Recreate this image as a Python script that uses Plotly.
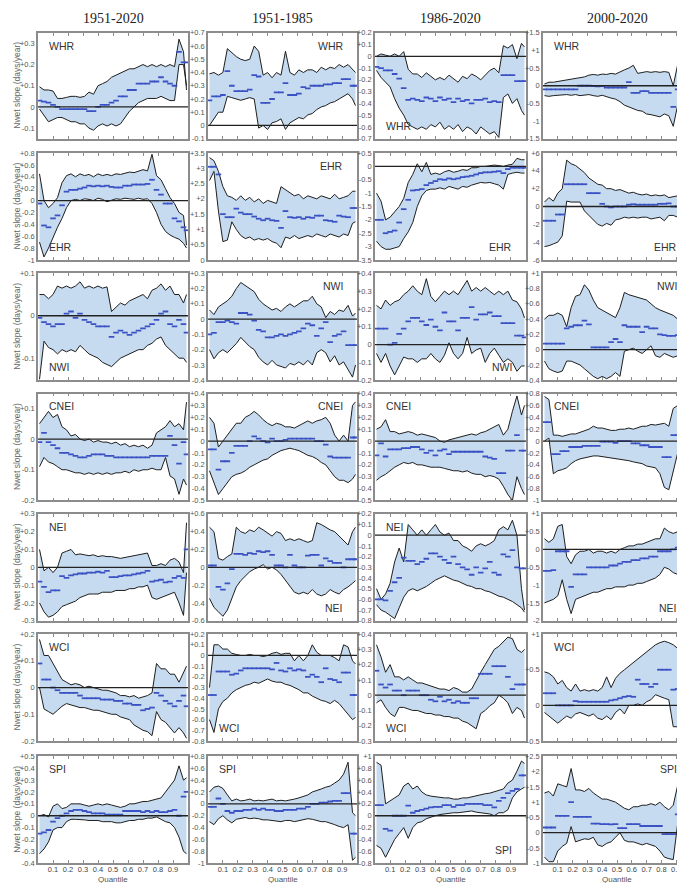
import plotly.graph_objects as go

# ---------------- data ----------------
quantiles = [0.01, 0.04, 0.07, 0.10, 0.13, 0.16, 0.19, 0.22, 0.25, 0.28, 0.31, 0.34,
             0.37, 0.40, 0.43, 0.46, 0.49, 0.52, 0.55, 0.58, 0.61, 0.64, 0.67, 0.70,
             0.73, 0.76, 0.79, 0.82, 0.85, 0.88, 0.91, 0.94, 0.97, 0.99]
periods = ["1951-2020", "1951-1985", "1986-2020", "2000-2020"]
regions = ["WHR", "EHR", "NWI", "CNEI", "NEI", "WCI", "SPI"]
x_ticks = [0.1, 0.2, 0.3, 0.4, 0.5, 0.6, 0.7, 0.8, 0.9]

# ---- WHR ----
WHR_5120_up = [0.095,0.08,0.08,0.075,0.04,0.04,0.045,0.05,0.05,0.045,0.05,0.07,0.06,0.10,0.11,0.12,0.14,0.15,0.16,0.17,0.18,0.18,0.19,0.20,0.19,0.20,0.19,0.20,0.19,0.20,0.19,0.32,0.26,0.08]
WHR_5120_lo = [-0.01,-0.04,-0.07,-0.06,-0.05,-0.05,-0.06,-0.07,-0.07,-0.08,-0.08,-0.10,-0.11,-0.09,-0.08,-0.09,-0.08,-0.09,-0.08,-0.05,-0.02,0.0,0.02,0.03,0.04,0.04,0.04,0.05,0.04,0.03,0.03,0.20,0.20,0.10]
WHR_5120_est = [0.03,0.025,0.02,0.01,0.0,-0.01,-0.01,-0.01,-0.01,-0.01,-0.01,-0.02,-0.02,0.0,0.01,0.01,0.02,0.03,0.05,0.05,0.08,0.08,0.11,0.11,0.11,0.12,0.12,0.14,0.12,0.11,0.10,0.26,0.21,0.21]
WHR_5185_up = [0.39,0.40,0.38,0.40,0.58,0.55,0.52,0.50,0.49,0.50,0.60,0.56,0.38,0.40,0.36,0.40,0.38,0.56,0.40,0.38,0.42,0.40,0.42,0.42,0.40,0.44,0.42,0.44,0.43,0.46,0.44,0.46,0.42,0.40]
WHR_5185_lo = [0.0,0.05,0.10,0.10,0.22,0.21,0.20,0.19,0.20,0.21,0.20,-0.02,0.0,-0.03,0.02,0.03,0.05,-0.03,0.02,0.04,0.06,0.05,0.08,0.09,0.12,0.14,0.15,0.17,0.18,0.20,0.22,0.24,0.20,0.15]
WHR_5185_est = [0.19,0.22,0.22,0.23,0.41,0.30,0.26,0.26,0.26,0.27,0.38,0.37,0.17,0.17,0.20,0.25,0.25,0.32,0.23,0.23,0.24,0.29,0.28,0.30,0.30,0.30,0.31,0.31,0.32,0.32,0.35,0.35,0.30,0.30]
WHR_8620_up = [0.0,0.02,0.01,0.0,0.02,0.0,0.04,-0.11,-0.15,-0.15,-0.18,-0.14,-0.17,-0.20,-0.18,-0.20,-0.16,-0.19,-0.22,-0.17,-0.19,-0.15,-0.17,-0.20,-0.16,-0.12,-0.10,-0.14,0.09,0.07,0.10,-0.02,0.11,0.08]
WHR_8620_lo = [-0.12,-0.18,-0.22,-0.26,-0.36,-0.44,-0.50,-0.58,-0.60,-0.62,-0.60,-0.62,-0.58,-0.60,-0.56,-0.62,-0.59,-0.62,-0.58,-0.64,-0.60,-0.62,-0.66,-0.60,-0.63,-0.66,-0.64,-0.69,-0.35,-0.32,-0.40,-0.36,-0.46,-0.50]
WHR_8620_est = [-0.09,-0.10,-0.12,-0.12,-0.15,-0.19,-0.27,-0.37,-0.36,-0.37,-0.38,-0.35,-0.36,-0.38,-0.35,-0.37,-0.36,-0.39,-0.36,-0.38,-0.37,-0.40,-0.37,-0.37,-0.36,-0.39,-0.38,-0.39,-0.16,-0.16,-0.16,-0.21,-0.21,-0.21]
WHR_0020_up = [0.05,0.10,0.10,0.12,0.15,0.15,0.18,0.20,0.22,0.25,0.30,0.32,0.30,0.33,0.32,0.35,0.33,0.40,0.45,0.50,0.58,0.35,0.38,0.40,0.38,0.40,0.38,0.40,0.38,0.0,0.60,0.75,0.90,1.00]
WHR_0020_lo = [-0.28,-0.30,-0.28,-0.27,-0.28,-0.25,-0.27,-0.25,-0.28,-0.27,-0.25,-0.28,-0.30,-0.27,-0.32,-0.35,-0.38,-0.45,-0.55,-0.60,-0.65,-0.70,-0.72,-0.80,-0.82,-0.85,-0.88,-0.80,-0.85,-1.15,-0.55,-0.35,-0.50,-0.30]
WHR_0020_est = [-0.10,-0.10,-0.10,-0.10,-0.10,-0.10,-0.10,-0.10,0.0,0.0,0.0,-0.01,-0.02,-0.01,-0.05,-0.05,-0.05,-0.05,-0.05,0.10,-0.20,-0.20,-0.15,-0.15,-0.20,-0.20,-0.20,-0.20,-0.20,-0.60,-0.10,-0.10,0.20,0.20]

# ---- EHR ----
EHR_5120_up = [0.45,0.0,-0.12,-0.05,0.05,0.30,0.42,0.45,0.40,0.45,0.42,0.44,0.40,0.45,0.42,0.44,0.42,0.45,0.44,0.46,0.48,0.47,0.50,0.52,0.50,0.78,0.42,0.35,0.20,0.05,-0.05,-0.20,-0.25,-0.75]
EHR_5120_lo = [-0.70,-0.95,-0.80,-0.62,-0.45,-0.30,-0.12,0.0,0.02,0.0,0.03,0.02,0.0,0.04,0.02,-0.02,0.01,0.03,0.02,0.04,0.03,0.02,0.04,0.02,0.03,-0.05,-0.20,-0.40,-0.52,-0.58,-0.62,-0.65,-0.72,-0.80]
EHR_5120_est = [-0.05,-0.42,-0.45,-0.30,-0.25,-0.08,0.15,0.18,0.18,0.20,0.22,0.25,0.24,0.25,0.24,0.25,0.23,0.22,0.22,0.25,0.25,0.27,0.27,0.27,0.28,0.35,0.18,0.10,-0.05,-0.05,-0.30,-0.35,-0.45,-0.50]
EHR_5185_up = [3.35,3.25,2.90,2.40,2.10,2.05,1.95,2.10,1.95,2.05,1.90,2.00,1.85,1.95,1.90,1.85,2.40,2.30,2.20,2.10,2.15,2.00,2.10,2.05,2.00,2.10,2.05,2.00,2.15,2.00,2.05,2.10,2.25,2.25]
EHR_5185_lo = [2.60,2.90,1.60,0.60,0.65,1.25,1.00,0.80,0.70,0.75,0.65,0.70,0.65,0.70,0.60,0.55,0.40,0.75,0.70,0.80,0.70,0.75,0.80,0.75,0.85,0.80,0.75,0.85,0.80,0.75,0.85,0.80,1.20,1.25]
EHR_5185_est = [3.05,3.05,2.80,1.50,1.40,1.40,1.68,1.55,1.50,1.50,1.42,1.35,1.30,1.35,1.30,1.28,1.05,1.60,1.40,1.38,1.40,1.35,1.40,1.38,1.45,1.45,1.30,1.28,1.25,1.45,1.42,1.40,1.70,1.70]
EHR_8620_up = [-1.00,-1.30,-2.00,-1.90,-1.70,-1.50,-1.20,-0.60,-0.30,0.10,-0.20,0.15,-0.30,-0.25,-0.30,-0.20,-0.15,-0.22,-0.18,-0.12,-0.15,-0.05,-0.05,0.0,0.0,0.02,0.05,0.03,0.0,0.05,0.08,0.30,0.25,0.25]
EHR_8620_lo = [-2.80,-3.00,-3.10,-3.10,-3.05,-3.00,-2.70,-2.45,-2.10,-1.50,-1.10,-0.90,-0.85,-0.85,-0.80,-0.85,-0.75,-0.80,-0.85,-0.75,-0.78,-0.70,-0.65,-0.60,-0.62,-0.60,-0.65,-0.70,-0.85,-0.30,-0.25,-0.22,-0.25,-0.25]
EHR_8620_est = [-2.00,-2.00,-2.50,-2.45,-2.40,-2.10,-1.60,-1.25,-0.90,-0.88,-0.85,-0.70,-0.62,-0.55,-0.48,-0.50,-0.45,-0.48,-0.45,-0.40,-0.38,-0.35,-0.30,-0.25,-0.22,-0.22,-0.20,-0.18,-0.25,-0.10,-0.05,-0.05,-0.05,-0.05]
EHR_0020_up = [0.50,1.00,0.60,1.50,2.00,5.20,4.80,4.60,4.20,3.80,3.20,2.80,2.50,2.40,2.00,2.00,1.80,1.90,1.70,1.50,1.60,1.40,1.30,1.40,1.20,1.30,1.20,1.30,1.00,1.10,1.20,1.00,1.10,1.00]
EHR_0020_lo = [-4.50,-4.40,-4.20,-4.00,-3.30,0.60,0.50,0.50,0.50,-0.50,-1.00,-1.50,-2.00,-2.20,-1.90,-2.10,-1.50,-1.40,-1.20,-1.30,-1.20,-1.30,-1.20,-1.20,-1.40,-1.30,-1.20,-1.60,-1.00,-1.00,-1.20,-1.30,-1.40,-1.30]
EHR_0020_est = [-1.6,-1.6,-1.6,-0.9,-0.9,2.5,2.5,2.5,2.5,2.5,1.5,1.5,1.5,0.3,0.0,-0.1,0.0,0.0,0.0,0.2,0.25,0.2,0.2,0.2,0.2,0.2,0.3,0.3,0.35,0.0,0.0,0.0,0.0,0.0]

# ---- NWI ----
NWI_5120_up = [0.05,0.05,0.04,0.05,0.07,0.065,0.07,0.065,0.07,0.08,0.065,0.07,0.065,0.07,0.065,0.068,0.01,0.02,0.03,0.025,0.035,0.04,0.045,0.05,0.04,0.06,0.065,0.075,0.06,0.07,0.05,0.05,0.03,0.05]
NWI_5120_lo = [-0.15,-0.06,-0.075,-0.08,-0.09,-0.08,-0.085,-0.08,-0.085,-0.07,-0.08,-0.09,-0.095,-0.10,-0.11,-0.115,-0.12,-0.11,-0.10,-0.095,-0.09,-0.085,-0.08,-0.08,-0.07,-0.065,-0.055,-0.05,-0.07,-0.08,-0.09,-0.10,-0.10,-0.11]
NWI_5120_est = [-0.005,-0.015,-0.02,-0.025,-0.02,-0.02,0.005,0.01,-0.005,0.005,-0.01,-0.015,-0.02,-0.025,-0.025,-0.025,-0.05,-0.04,-0.035,-0.04,-0.045,-0.04,-0.035,-0.03,-0.025,-0.02,-0.01,0.005,0.01,-0.02,-0.025,-0.01,-0.02,-0.04]
NWI_5185_up = [0.06,0.03,0.08,0.10,0.12,0.15,0.20,0.24,0.22,0.20,0.18,0.13,0.10,0.08,0.06,0.07,0.05,0.08,0.10,0.08,0.10,0.12,0.12,0.15,0.10,0.08,0.01,0.05,0.03,0.06,0.05,0.09,0.02,0.04]
NWI_5185_lo = [-0.20,-0.26,-0.22,-0.20,-0.22,-0.19,-0.16,-0.12,-0.15,-0.18,-0.20,-0.25,-0.28,-0.30,-0.27,-0.30,-0.31,-0.32,-0.29,-0.30,-0.28,-0.30,-0.27,-0.30,-0.22,-0.20,-0.22,-0.28,-0.24,-0.30,-0.28,-0.33,-0.38,-0.30]
NWI_5185_est = [-0.10,-0.09,-0.02,-0.02,-0.01,-0.02,-0.03,0.04,0.04,0.03,-0.01,-0.07,-0.08,-0.12,-0.12,-0.11,-0.10,-0.11,-0.10,-0.09,-0.08,-0.06,-0.03,-0.04,-0.11,-0.06,-0.02,-0.15,-0.11,-0.10,-0.08,-0.17,-0.17,-0.17]
NWI_8620_up = [0.22,0.20,0.25,0.22,0.24,0.25,0.28,0.30,0.33,0.30,0.28,0.37,0.27,0.24,0.27,0.30,0.28,0.30,0.28,0.32,0.36,0.30,0.32,0.30,0.32,0.30,0.28,0.30,0.28,0.30,0.25,0.24,0.20,0.15]
NWI_8620_lo = [-0.05,-0.10,-0.05,-0.12,-0.17,-0.12,-0.07,-0.08,-0.08,-0.10,-0.08,-0.08,-0.05,-0.08,-0.10,-0.06,0.01,-0.05,-0.08,-0.05,0.04,-0.05,-0.03,-0.02,-0.10,-0.05,-0.02,-0.06,-0.10,-0.08,-0.10,-0.15,-0.12,-0.12]
NWI_8620_est = [0.09,0.09,0.09,0.0,0.01,0.06,0.09,0.13,0.15,0.15,0.13,0.11,0.14,0.10,0.08,0.18,0.13,0.13,0.08,0.15,0.15,0.21,0.14,0.17,0.17,0.18,0.16,0.16,0.12,0.12,0.12,0.05,0.05,0.04]
NWI_0020_up = [0.40,0.45,0.45,0.48,0.45,0.30,0.55,0.70,0.72,0.85,0.78,0.65,0.55,0.52,0.48,0.45,0.42,0.55,0.75,0.72,0.70,0.68,0.66,0.65,0.60,0.55,0.52,0.50,0.48,0.45,0.40,0.35,0.38,0.40]
NWI_0020_lo = [-0.15,-0.25,-0.28,-0.30,-0.28,-0.15,-0.15,-0.18,-0.20,-0.25,-0.30,-0.35,-0.38,-0.35,-0.38,-0.35,-0.30,-0.35,-0.02,0.0,0.02,-0.02,-0.05,0.0,0.05,-0.08,-0.10,-0.05,-0.08,-0.10,-0.08,-0.10,-0.06,-0.05]
NWI_0020_est = [0.08,0.08,0.08,0.08,0.08,0.28,0.30,0.32,0.32,0.38,0.33,0.03,0.03,0.03,0.03,0.10,0.14,0.10,0.32,0.30,0.30,0.30,0.23,0.30,0.28,0.28,0.20,0.19,0.18,0.18,0.19,0.19,0.18,0.19]

# ---- CNEI ----
CNEI_5120_up = [0.05,0.07,0.09,0.07,0.08,0.04,0.03,0.01,0.015,0.0,-0.005,0.0,-0.01,-0.005,-0.01,-0.01,-0.015,-0.01,-0.02,-0.015,-0.025,-0.02,-0.025,-0.02,-0.03,-0.02,0.02,0.03,0.04,0.06,0.04,0.05,0.03,0.12]
CNEI_5120_lo = [-0.09,-0.06,-0.075,-0.08,-0.09,-0.10,-0.10,-0.105,-0.11,-0.11,-0.115,-0.11,-0.115,-0.11,-0.115,-0.11,-0.115,-0.11,-0.11,-0.105,-0.11,-0.10,-0.105,-0.10,-0.10,-0.095,-0.10,-0.10,-0.06,-0.12,-0.13,-0.18,-0.13,-0.15]
CNEI_5120_est = [-0.01,0.02,-0.01,-0.02,-0.03,-0.045,-0.045,-0.05,-0.055,-0.06,-0.06,-0.055,-0.05,-0.05,-0.05,-0.055,-0.055,-0.06,-0.06,-0.06,-0.06,-0.06,-0.06,-0.06,-0.06,-0.055,-0.055,-0.055,-0.055,0.01,-0.02,-0.08,-0.01,-0.05]
CNEI_5185_up = [0.20,0.15,-0.05,0.0,0.05,0.10,0.15,0.15,0.20,0.22,0.25,0.22,0.18,0.15,0.13,0.15,0.14,0.12,0.12,0.11,0.13,0.15,0.17,0.15,0.17,0.18,0.20,0.15,0.05,0.0,0.05,0.0,0.30,0.33]
CNEI_5185_lo = [-0.25,-0.35,-0.45,-0.40,-0.35,-0.30,-0.28,-0.27,-0.25,-0.22,-0.20,-0.18,-0.16,-0.15,-0.12,-0.10,-0.08,-0.07,-0.06,-0.07,-0.08,-0.10,-0.12,-0.13,-0.15,-0.18,-0.20,-0.25,-0.30,-0.33,-0.33,-0.35,-0.32,-0.28]
CNEI_5185_est = [-0.07,-0.07,-0.24,-0.17,-0.17,-0.10,-0.04,-0.04,-0.04,0.0,0.04,0.02,0.0,-0.01,0.02,0.0,0.0,0.01,0.02,0.02,0.02,0.02,0.02,0.02,0.0,0.0,-0.03,-0.13,-0.14,-0.14,-0.14,-0.14,0.03,0.03]
CNEI_8620_up = [0.10,0.12,0.18,0.08,0.08,0.06,0.07,0.08,0.07,0.05,0.06,0.05,0.04,0.03,0.0,-0.01,0.01,0.02,0.03,0.04,0.05,0.06,0.05,0.07,0.08,0.10,0.12,0.14,0.05,0.10,0.25,0.38,0.22,0.30]
CNEI_8620_lo = [-0.33,-0.30,-0.28,-0.25,-0.22,-0.20,-0.18,-0.19,-0.18,-0.20,-0.20,-0.21,-0.22,-0.22,-0.22,-0.23,-0.24,-0.25,-0.25,-0.26,-0.25,-0.27,-0.28,-0.28,-0.30,-0.29,-0.30,-0.32,-0.38,-0.45,-0.50,-0.30,-0.40,-0.45]
CNEI_8620_est = [-0.12,-0.02,-0.13,-0.07,-0.07,-0.07,-0.06,-0.06,-0.05,-0.05,-0.07,-0.10,-0.08,-0.12,-0.08,-0.07,-0.11,-0.09,-0.09,-0.09,-0.09,-0.09,-0.09,-0.09,-0.13,-0.14,-0.15,-0.27,-0.27,-0.08,-0.08,0.05,-0.08,-0.08]
CNEI_0020_up = [0.75,0.70,0.10,0.10,0.08,0.10,0.12,0.12,0.15,0.18,0.20,0.25,0.22,0.22,0.20,0.18,0.18,0.20,0.20,0.22,0.20,0.22,0.25,0.25,0.28,0.27,0.28,0.30,0.25,0.55,0.60,0.62,0.65,0.70]
CNEI_0020_lo = [0.0,0.05,-0.55,-0.50,-0.48,-0.45,-0.38,-0.33,-0.30,-0.28,-0.27,-0.25,-0.25,-0.26,-0.27,-0.28,-0.30,-0.30,-0.32,-0.33,-0.35,-0.37,-0.38,-0.42,-0.44,-0.45,-0.55,-0.78,-0.82,-0.50,-0.20,-0.10,-0.05,-0.30]
CNEI_0020_est = [0.32,0.32,-0.22,-0.22,-0.17,-0.17,-0.10,-0.10,-0.10,-0.08,-0.08,-0.08,-0.08,-0.01,-0.01,-0.01,-0.03,0.0,0.0,0.0,-0.04,-0.04,-0.07,-0.07,-0.10,-0.10,-0.10,-0.27,-0.27,0.10,0.10,0.10,0.10,0.10]

# ---- NEI ----
NEI_5120_up = [0.10,-0.02,0.0,-0.03,0.0,0.08,0.09,0.10,0.07,0.075,0.07,0.065,0.07,0.06,0.065,0.06,0.06,0.055,0.05,0.055,0.06,0.065,0.07,0.075,0.08,0.01,0.01,0.02,0.01,0.04,0.05,0.03,-0.03,0.25]
NEI_5120_lo = [-0.20,-0.25,-0.28,-0.27,-0.25,-0.22,-0.21,-0.20,-0.19,-0.17,-0.16,-0.15,-0.15,-0.15,-0.14,-0.14,-0.14,-0.13,-0.13,-0.13,-0.12,-0.12,-0.11,-0.11,-0.10,-0.17,-0.18,-0.17,-0.16,-0.15,-0.14,-0.20,-0.27,-0.03]
NEI_5120_est = [-0.08,-0.11,-0.14,-0.13,-0.13,-0.05,-0.06,-0.045,-0.04,-0.035,-0.035,-0.03,-0.03,-0.025,-0.03,-0.02,-0.055,-0.055,-0.05,-0.045,-0.045,-0.04,-0.035,-0.03,-0.02,-0.08,-0.075,-0.07,-0.085,-0.08,-0.06,-0.05,-0.06,0.10]
NEI_5185_up = [0.45,0.40,0.10,0.08,0.12,0.15,0.45,0.40,0.38,0.42,0.40,0.45,0.42,0.38,0.35,0.40,0.38,0.30,0.32,0.30,0.32,0.30,0.28,0.30,0.50,0.48,0.45,0.42,0.40,0.35,0.30,0.25,0.40,0.45]
NEI_5185_lo = [-0.35,-0.45,-0.50,-0.55,-0.48,-0.35,-0.22,-0.15,-0.10,-0.05,-0.02,0.0,0.03,-0.02,0.0,-0.03,-0.08,-0.15,-0.22,-0.28,-0.30,-0.28,-0.30,-0.25,-0.30,-0.32,-0.30,-0.25,-0.28,-0.30,-0.25,-0.22,-0.18,-0.15]
NEI_5185_est = [0.02,0.02,-0.22,-0.25,-0.18,-0.02,0.15,0.15,0.14,0.16,0.15,0.18,0.17,0.18,0.14,0.02,0.02,0.0,0.14,0.02,0.0,0.0,0.13,0.14,0.14,0.02,0.10,0.07,0.05,0.05,0.0,0.09,0.09,0.09]
NEI_8620_up = [-0.50,-0.60,-0.55,-0.45,-0.25,-0.12,-0.25,0.10,0.05,0.0,0.05,0.0,0.05,0.10,0.03,0.0,0.02,-0.05,-0.05,-0.10,-0.12,-0.15,-0.10,-0.08,-0.10,-0.08,-0.05,0.05,0.08,0.05,0.14,0.0,-0.50,-0.70]
NEI_8620_lo = [-0.65,-0.70,-0.72,-0.75,-0.78,-0.68,-0.58,-0.52,-0.50,-0.52,-0.50,-0.48,-0.45,-0.42,-0.40,-0.38,-0.40,-0.42,-0.43,-0.45,-0.47,-0.48,-0.50,-0.50,-0.52,-0.53,-0.55,-0.57,-0.58,-0.60,-0.62,-0.65,-0.68,-0.72]
NEI_8620_est = [-0.60,-0.60,-0.61,-0.52,-0.44,-0.40,-0.21,-0.24,-0.24,-0.27,-0.25,-0.22,-0.17,-0.17,-0.20,-0.23,-0.26,-0.20,-0.27,-0.30,-0.32,-0.37,-0.30,-0.35,-0.31,-0.25,-0.35,-0.37,-0.18,-0.20,-0.14,-0.30,-0.31,-0.31]
NEI_0020_up = [0.30,0.20,0.30,0.65,0.70,-0.20,-0.40,-0.15,-0.05,-0.05,0.0,-0.10,-0.05,-0.05,-0.10,-0.05,-0.10,0.0,0.05,0.10,0.10,0.15,0.15,0.20,0.25,0.30,0.30,0.60,0.50,0.45,0.50,0.30,0.35,0.25]
NEI_0020_lo = [-1.50,-1.45,-1.40,-1.30,-0.85,-1.40,-1.80,-1.40,-1.35,-1.30,-1.25,-1.20,-1.20,-1.15,-1.10,-1.10,-1.05,-1.05,-1.05,-1.00,-1.00,-0.95,-0.95,-0.90,-0.85,-0.80,-0.70,-0.50,-0.55,-0.65,-0.70,-0.80,-0.85,-0.85]
NEI_0020_est = [-0.60,-0.60,-0.58,-0.05,-0.05,-0.05,-1.05,-0.70,-0.70,-0.70,-0.50,-0.50,-0.50,-0.50,-0.50,-0.45,-0.45,-0.40,-0.35,-0.35,-0.30,-0.30,-0.25,-0.25,-0.20,-0.20,-0.05,-0.05,-0.05,0.0,0.05,-0.25,-0.25,-0.25]

# ---- WCI ----
WCI_5120_up = [0.18,0.12,0.12,0.09,0.06,0.03,0.02,0.01,0.015,0.01,0.0,0.005,0.0,-0.005,-0.01,-0.01,-0.015,-0.02,-0.03,-0.03,-0.035,-0.03,-0.04,-0.035,-0.03,-0.02,0.09,0.07,0.07,0.05,0.05,0.02,0.06,0.08]
WCI_5120_lo = [0.0,-0.08,-0.09,-0.10,-0.085,-0.07,-0.06,-0.065,-0.07,-0.075,-0.075,-0.08,-0.085,-0.085,-0.09,-0.095,-0.10,-0.10,-0.11,-0.115,-0.12,-0.14,-0.15,-0.16,-0.165,-0.18,-0.09,-0.12,-0.13,-0.15,-0.17,-0.15,-0.17,-0.19]
WCI_5120_est = [0.09,0.03,0.03,0.0,-0.01,-0.02,-0.02,-0.02,-0.02,-0.03,-0.04,-0.04,-0.04,-0.04,-0.045,-0.045,-0.045,-0.05,-0.05,-0.06,-0.06,-0.065,-0.065,-0.085,-0.08,-0.075,-0.02,-0.03,-0.05,-0.06,-0.07,-0.05,-0.03,-0.07]
WCI_5185_up = [-0.30,0.10,0.10,0.06,0.06,0.02,0.01,0.0,0.0,0.01,0.0,0.0,-0.01,0.0,0.02,0.03,0.01,0.02,0.02,-0.05,0.0,-0.05,0.0,0.10,0.03,0.0,0.0,0.0,-0.02,-0.05,0.10,0.08,-0.05,-0.08]
WCI_5185_lo = [-0.60,-0.72,-0.50,-0.43,-0.40,-0.35,-0.32,-0.30,-0.28,-0.27,-0.25,-0.26,-0.24,-0.22,-0.24,-0.25,-0.25,-0.27,-0.28,-0.30,-0.32,-0.35,-0.35,-0.38,-0.40,-0.42,-0.43,-0.45,-0.42,-0.45,-0.50,-0.55,-0.60,-0.58]
WCI_5185_est = [-0.37,-0.37,-0.15,-0.15,-0.15,-0.18,-0.17,-0.14,-0.12,-0.12,-0.12,-0.12,-0.12,-0.12,-0.13,-0.07,-0.14,-0.15,-0.12,-0.14,-0.13,-0.14,-0.20,-0.18,-0.20,-0.25,-0.12,-0.22,-0.23,-0.25,-0.16,-0.16,-0.37,-0.37]
WCI_8620_up = [0.33,0.25,0.15,0.20,0.12,0.12,0.10,0.12,0.10,0.08,0.08,0.07,0.06,0.05,0.04,0.04,0.03,0.05,0.04,0.02,0.02,0.04,0.10,0.15,0.20,0.25,0.30,0.32,0.35,0.38,0.37,0.30,0.28,0.30]
WCI_8620_lo = [-0.05,-0.03,-0.08,-0.12,-0.14,-0.08,-0.08,-0.09,-0.10,-0.10,-0.11,-0.12,-0.12,-0.13,-0.13,-0.14,-0.14,-0.15,-0.15,-0.17,-0.18,-0.20,-0.22,-0.12,-0.10,-0.07,-0.05,0.0,-0.02,-0.05,-0.12,-0.08,-0.10,-0.15]
WCI_8620_est = [0.16,0.07,0.05,0.07,0.03,0.03,0.0,0.03,0.03,0.03,0.0,0.0,-0.03,-0.04,-0.01,-0.04,-0.03,-0.05,-0.04,-0.05,-0.05,-0.02,-0.02,0.14,0.14,0.14,0.19,0.19,0.19,0.12,0.04,0.07,0.07,0.07]
WCI_0020_up = [0.47,0.45,0.40,0.30,0.35,0.25,0.20,0.30,0.20,0.22,0.20,0.22,0.20,0.25,0.40,0.25,0.38,0.45,0.50,0.55,0.60,0.65,0.70,0.75,0.80,0.85,0.88,0.90,0.88,0.85,0.80,0.70,0.75,0.65]
WCI_0020_lo = [-0.10,-0.15,-0.20,-0.25,-0.20,-0.15,-0.18,-0.12,-0.10,-0.12,-0.15,-0.12,-0.18,-0.20,-0.15,-0.20,-0.10,-0.05,-0.12,0.0,0.0,0.02,0.0,0.05,0.08,0.15,0.12,0.10,0.08,-0.30,-0.30,-0.35,-0.40,-0.35]
WCI_0020_est = [0.17,0.17,0.17,0.0,0.0,0.0,0.0,0.06,0.05,0.05,0.05,0.05,0.05,0.05,0.05,0.07,0.08,0.10,0.12,0.13,0.12,0.36,0.30,0.30,0.26,0.30,0.50,0.50,0.50,0.22,0.23,0.21,0.21,0.21]

# ---- SPI ----
SPI_5120_up = [0.0,0.01,-0.01,0.08,0.10,0.06,0.07,0.10,0.10,0.10,0.09,0.08,0.09,0.10,0.09,0.10,0.09,0.08,0.07,0.08,0.10,0.10,0.11,0.12,0.12,0.13,0.14,0.15,0.20,0.25,0.30,0.42,0.30,0.32]
SPI_5120_lo = [-0.32,-0.28,-0.22,-0.12,-0.10,-0.10,-0.05,-0.03,-0.03,-0.03,-0.035,-0.04,-0.04,-0.04,-0.05,-0.05,-0.05,-0.06,-0.06,-0.05,-0.04,-0.04,-0.03,-0.03,-0.02,-0.02,-0.01,-0.03,-0.05,-0.06,-0.10,-0.18,-0.30,-0.32]
SPI_5120_est = [-0.15,-0.14,-0.12,-0.05,-0.02,0.0,0.02,0.04,0.05,0.05,0.04,0.03,0.02,0.02,0.02,0.01,0.01,0.01,0.01,0.04,0.04,0.04,0.04,0.03,0.04,0.03,0.04,0.03,0.03,0.04,0.05,0.0,0.16,0.20]
SPI_5185_up = [0.20,0.28,0.30,0.26,0.15,0.05,0.08,0.05,0.06,0.08,0.05,0.06,0.05,0.06,0.08,0.05,0.06,0.05,0.06,0.08,0.10,0.12,0.15,0.20,0.22,0.25,0.28,0.30,0.35,0.40,0.50,0.70,-0.15,-0.20]
SPI_5185_lo = [-0.30,-0.35,-0.25,-0.20,-0.27,-0.32,-0.26,-0.25,-0.23,-0.25,-0.24,-0.25,-0.27,-0.27,-0.28,-0.28,-0.30,-0.28,-0.28,-0.30,-0.28,-0.27,-0.25,-0.26,-0.28,-0.30,-0.30,-0.32,-0.35,-0.38,-0.40,-0.35,-0.95,-0.90]
SPI_5185_est = [-0.05,-0.05,0.09,0.0,-0.12,-0.15,-0.12,-0.12,-0.10,-0.10,-0.08,-0.10,-0.08,-0.10,-0.10,-0.12,-0.12,-0.10,-0.10,-0.10,-0.08,-0.08,-0.05,0.0,0.0,0.02,0.02,0.04,0.05,0.05,0.18,0.18,-0.50,-0.50]
SPI_8620_up = [0.90,0.85,0.20,0.25,0.30,0.35,0.50,0.55,0.45,0.50,0.40,0.35,0.33,0.32,0.30,0.30,0.30,0.28,0.28,0.30,0.30,0.32,0.33,0.35,0.37,0.38,0.40,0.42,0.45,0.55,0.60,0.75,0.92,0.88]
SPI_8620_lo = [-0.50,-0.55,-0.70,-0.55,-0.40,-0.30,-0.20,-0.38,-0.20,-0.12,-0.10,-0.05,-0.02,0.0,0.02,0.03,0.05,0.05,0.05,0.06,0.07,0.08,0.06,0.05,0.05,0.03,0.0,0.05,0.05,0.10,0.30,0.40,0.45,0.48]
SPI_8620_est = [0.18,0.18,-0.22,-0.25,0.0,0.0,0.0,0.17,0.05,0.08,0.10,0.12,0.14,0.15,0.15,0.18,0.18,0.15,0.18,0.18,0.20,0.20,0.20,0.20,0.18,0.18,0.14,0.25,0.30,0.38,0.42,0.45,0.68,0.68]
SPI_0020_up = [1.30,1.35,1.20,1.60,1.55,1.50,2.10,1.40,1.40,1.35,1.45,1.30,1.20,1.10,1.10,1.05,1.00,0.90,0.80,0.75,0.85,0.85,0.90,0.90,0.95,0.90,1.00,0.85,0.75,0.90,1.50,2.20,2.35,2.20]
SPI_0020_lo = [-0.80,-0.95,-0.95,-0.60,-0.45,-0.35,0.20,-0.30,-0.25,-0.20,-0.22,-0.15,-0.40,-0.45,-0.35,-0.30,-0.15,0.0,-0.25,-0.30,-0.30,-0.35,-0.40,-0.35,-0.40,-0.45,-0.60,-0.80,-0.85,-0.88,0.30,0.60,0.50,0.60]
SPI_0020_est = [0.17,0.17,0.17,0.55,0.55,0.55,1.00,0.52,0.52,0.52,0.52,0.30,0.30,0.28,0.28,0.27,0.28,0.15,0.15,0.28,0.28,0.28,0.22,0.22,0.22,0.22,0.22,-0.05,-0.05,-0.05,0.60,1.40,1.40,1.40]

# y-axis ranges and tick steps, per region, per period
y_ranges = {
    "WHR":  [(-0.15, 0.35, 0.1), (-0.1, 0.7, 0.1), (-0.7, 0.2, 0.1), (-1.5, 1.5, 0.5)],
    "EHR":  [(-1.0, 0.8, 0.2), (0.0, 3.5, 0.5), (-3.5, 0.5, 0.5), (-6.0, 6.0, 2.0)],
    "NWI":  [(-0.152, 0.1, 0.1), (-0.4, 0.3, 0.1), (-0.2, 0.4, 0.1), (-0.4, 1.0, 0.2)],
    "CNEI": [(-0.2, 0.148, 0.1), (-0.5, 0.4, 0.1), (-0.5, 0.4, 0.1), (-1.0, 0.8, 0.2)],
    "NEI":  [(-0.3, 0.3, 0.1), (-0.6, 0.6, 0.2), (-0.8, 0.2, 0.1), (-2.0, 1.0, 0.5)],
    "WCI":  [(-0.2, 0.2, 0.1), (-0.8, 0.2, 0.1), (-0.3, 0.4, 0.1), (-0.5, 1.0, 0.5)],
    "SPI":  [(-0.4, 0.5, 0.1), (-1.0, 0.8, 0.2), (-0.8, 1.0, 0.2), (-1.0, 2.5, 0.5)],
}
# where the region name sits in each panel
label_pos = {
    "WHR":  ["tl", "tr", "bl", "tl"],
    "EHR":  ["bl", "tr", "br", "br"],
    "NWI":  ["bl", "tr", "br", "tr"],
    "CNEI": ["tl", "tr", "tl", "tl"],
    "NEI":  ["tl", "br", "tl", "br"],
    "WCI":  ["tl", "bl", "bl", "tl"],
    "SPI":  ["tl", "tl", "br", "tr"],
}

g = globals()
period_keys = ["5120", "5185", "8620", "0020"]
PANELS = {reg: [(g[f"{reg}_{k}_lo"], g[f"{reg}_{k}_up"], g[f"{reg}_{k}_est"]) for k in period_keys]
          for reg in regions}

# ---------------- layout geometry (pixels) ----------------
W, H = 685, 883
col_px = [(30, 180), (200, 349), (367, 518), (535, 683)]
row_top = [21, 142.5, 264, 385.5, 507, 628.5, 752]
row_h = [107, 108, 108, 108, 108, 108, 108]

FILL = "#c6dbef"
LINE = "#1e1e1e"
BLUE = "#3b52c4"
FRAME = "#8c8c8c"
SANS = "Liberation Sans"


def px_x(v):
    return v / W


def px_y(v):
    return 1 - v / H


def fmt(v):
    if abs(v) < 1e-9:
        return "0"
    s = f"{abs(v):g}"
    return ("+" if v > 0 else "-") + s


def make_ticks(ymin, ymax, step):
    vals = []
    i = int(-(-round(ymin / step, 6) // 1))
    while round(i * step, 6) <= ymax + 1e-9:
        vals.append(round(i * step, 6))
        i += 1
    return vals


fig = go.Figure()
annotations = []
shapes = []
n = 0
for r, reg in enumerate(regions):
    top = row_top[r]
    bot = top + row_h[r]
    for c in range(4):
        n += 1
        lo, up, est = PANELS[reg][c]
        xa = "x" if n == 1 else f"x{n}"
        ya = "y" if n == 1 else f"y{n}"
        fig.add_trace(go.Scatter(x=quantiles, y=lo, mode="lines",
                                 line=dict(color=LINE, width=1), xaxis=xa, yaxis=ya,
                                 hoverinfo="skip", showlegend=False))
        fig.add_trace(go.Scatter(x=quantiles, y=up, mode="lines", fill="tonexty",
                                 fillcolor=FILL, line=dict(color=LINE, width=1),
                                 xaxis=xa, yaxis=ya, hoverinfo="skip", showlegend=False))
        fig.add_trace(go.Scatter(x=quantiles, y=est, mode="markers",
                                 marker=dict(symbol="line-ew", size=4,
                                             line=dict(width=1.8, color=BLUE)),
                                 xaxis=xa, yaxis=ya, hoverinfo="skip", showlegend=False))

        ymin, ymax, step = y_ranges[reg][c]
        tv = make_ticks(ymin, ymax, step)
        l, rr = col_px[c]
        xkey = "xaxis" if n == 1 else f"xaxis{n}"
        ykey = "yaxis" if n == 1 else f"yaxis{n}"
        fig.layout[xkey] = dict(domain=[px_x(l), px_x(rr)], range=[0, 1], anchor=ya,
                                showline=True, linecolor=FRAME, linewidth=1.5, mirror="ticks",
                                ticks="inside", ticklen=3, tickcolor=FRAME, tickwidth=1,
                                tickvals=x_ticks, ticktext=[f"{t:g}" for t in x_ticks],
                                showticklabels=(r == len(regions) - 1),
                                ticklabelstandoff=-2,
                                tickfont=dict(family=SANS, size=7.5, color="#444"),
                                showgrid=False, zeroline=False)
        fig.layout[ykey] = dict(domain=[px_y(bot), px_y(top)], range=[ymin, ymax], anchor=xa,
                                showline=True, linecolor=FRAME, linewidth=1.5, mirror=True,
                                ticks="", tickvals=tv, ticktext=[fmt(v) for v in tv],
                                tickfont=dict(family=SANS, size=7.5, color="#555"),
                                showgrid=False, zeroline=False)
        if ymin < 0 < ymax:
            shapes.append(dict(type="line", xref=f"{xa} domain", x0=0, x1=1,
                               yref=ya, y0=0, y1=0, layer="above",
                               line=dict(color="#222", width=1.3)))
        # region label
        pos = label_pos[reg][c]
        if pos[1] == "l":
            ax, xanc = l + 9, "left"
        else:
            ax, xanc = rr - 12, "right"
        ay = top + 13 if pos[0] == "t" else bot - 13
        annotations.append(dict(text=reg, x=px_x(ax), y=px_y(ay), xref="paper", yref="paper",
                                xanchor=xanc, yanchor="middle", showarrow=False,
                                font=dict(family=SANS, size=10.5, color="#333")))
    # y-axis title for the row
    annotations.append(dict(text="Nwet slope (days/year)", x=px_x(9), y=px_y(top + row_h[r] / 2),
                            xref="paper", yref="paper", textangle=-90, showarrow=False,
                            xanchor="center", yanchor="middle",
                            font=dict(family=SANS, size=8.5, color="#666")))

for c, p in enumerate(periods):
    l, rr = col_px[c]
    annotations.append(dict(text=p, x=px_x((l + rr) / 2), y=px_y(7), xref="paper", yref="paper",
                            xanchor="center", yanchor="middle", showarrow=False,
                            font=dict(family="Liberation Serif", size=14, color="#222")))
    annotations.append(dict(text="Quantile", x=px_x((l + rr) / 2), y=px_y(876.5), xref="paper",
                            yref="paper", xanchor="center", yanchor="middle", showarrow=False,
                            font=dict(family=SANS, size=8, color="#555")))

fig.update_layout(width=W, height=H, margin=dict(l=0, r=0, t=0, b=0),
                  paper_bgcolor="white", plot_bgcolor="white",
                  annotations=annotations, shapes=shapes, showlegend=False)
fig.write_html("out.html")
